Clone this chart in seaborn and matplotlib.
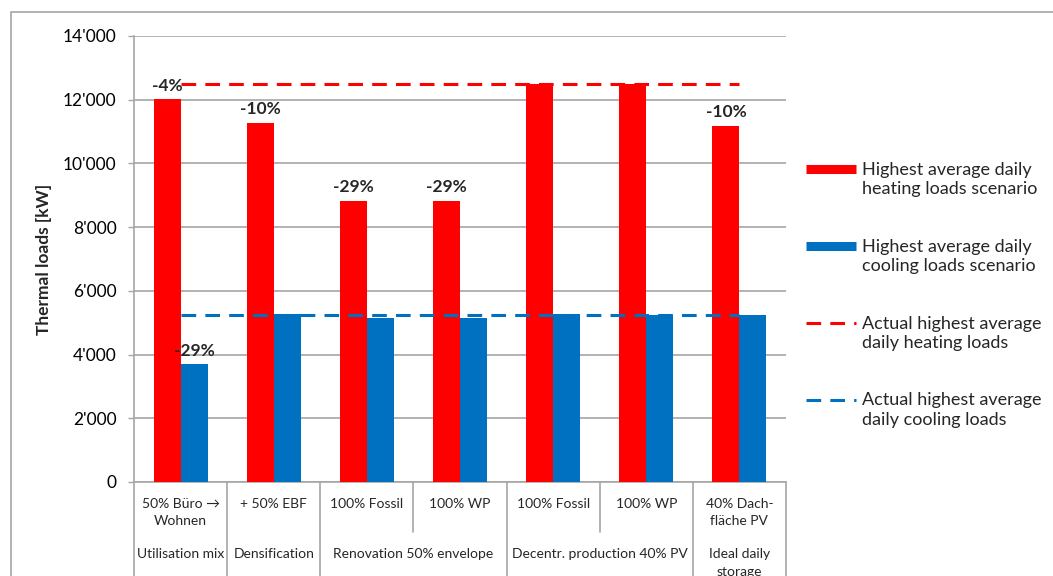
import numpy as np
import pandas as pd
import matplotlib.pyplot as plt
import matplotlib.transforms as mtransforms
from matplotlib.patches import Rectangle
from matplotlib.lines import Line2D
from matplotlib.ticker import FuncFormatter
import seaborn as sns

# scenario values (kW)
scenarios = ["50% Büro →\nWohnen", "+ 50% EBF", "100% Fossil", "100% WP",
             "100% Fossil", "100% WP", "40% Dach-\nfläche PV"]
groups = ["Utilisation mix", "Densification", "Renovation 50% envelope",
          "Decentr. production 40% PV", "Ideal daily\nstorage"]
group_sizes = [1, 1, 2, 2, 1]

heating = [12020, 11270, 8830, 8830, 12500, 12500, 11190]
cooling = [3700, 5270, 5160, 5160, 5260, 5240, 5230]
heating_actual = [12480, 12480, 12480, 12480, 12480, 12480, 12480]
cooling_actual = [5230, 5230, 5230, 5230, 5230, 5230, 5230]
heating_labels = ["-4%", "-10%", "-29%", "-29%", "", "", "-10%"]
cooling_labels = ["-29%", "", "", "", "", "", ""]

HEAT_NAME = "Highest average daily\nheating loads scenario"
COOL_NAME = "Highest average daily\ncooling loads scenario"
HEAT_ACT = "Actual highest average\ndaily heating loads"
COOL_ACT = "Actual highest average\ndaily cooling loads"
RED = "#FF0000"
BLUE = "#0070C0"
GRID = "#A6A6A6"
DASH = (0, (4.8, 3))

df = pd.DataFrame({
    "idx": list(range(len(scenarios))) * 2,
    "load": heating + cooling,
    "series": [HEAT_NAME] * len(heating) + [COOL_NAME] * len(cooling),
})

sns.set_style("white")
plt.rcParams["font.family"] = ["Lato", "DejaVu Sans"]

fig = plt.figure(figsize=(10.53, 5.76), dpi=100)
ax = fig.add_axes([134 / 1053, 94 / 576, 652 / 1053, 446 / 576])

sns.barplot(data=df, x="idx", y="load", hue="series", palette=[RED, BLUE],
            width=0.58, gap=0, saturation=1, legend=False, ax=ax, zorder=3,
            linewidth=0)

xs = np.arange(len(scenarios))
sns.lineplot(x=xs, y=heating_actual, color=RED, lw=2.2, linestyle=DASH, ax=ax, zorder=4)
sns.lineplot(x=xs, y=cooling_actual, color=BLUE, lw=2.2, linestyle=DASH, ax=ax, zorder=4)

ax.bar_label(ax.containers[0], labels=heating_labels, padding=4,
             fontsize=12.5, fontweight="bold")
ax.bar_label(ax.containers[1], labels=cooling_labels, padding=4,
             fontsize=12.5, fontweight="bold")

ax.set_xlim(-0.5, len(scenarios) - 0.5)
ax.set_ylim(0, 14000)
ax.set_yticks(np.arange(0, 14001, 2000))
ax.yaxis.set_major_formatter(FuncFormatter(lambda v, p: f"{v:,.0f}".replace(",", "'")))
ax.yaxis.grid(True, color=GRID, lw=1.2, zorder=0)
ax.set_axisbelow(True)
ax.tick_params(axis="y", which="major", left=True, length=4.5, width=1,
               color=GRID, pad=8, labelsize=12.5, labelcolor="black")
ax.set_xticks([])
ax.set_xlabel("")
ax.set_ylabel("Thermal loads [kW]", fontsize=12.5, fontweight="bold")
ax.yaxis.set_label_coords(-0.125, 0.5)
for s in ["top", "right"]:
    ax.spines[s].set_visible(False)
for s in ["left", "bottom"]:
    ax.spines[s].set_color(GRID)
    ax.spines[s].set_linewidth(1.2)

# two-level category axis
trans = mtransforms.blended_transform_factory(ax.transData, ax.transAxes)
for i, lab in enumerate(scenarios):
    ax.text(i, -0.035, lab, transform=trans, ha="center", va="top",
            fontsize=10, linespacing=1.55)
edges = [-0.5]
for n in group_sizes:
    edges.append(edges[-1] + n)
for b in np.arange(-0.5, len(scenarios), 1.0):
    low = -0.3 if b in edges else -0.112
    ax.plot([b, b], [0, low], transform=trans, color=GRID, lw=1.2, clip_on=False)
for g, lab in enumerate(groups):
    mid = (edges[g] + edges[g + 1]) / 2
    ax.text(mid, -0.148, lab, transform=trans, ha="center", va="top",
            fontsize=10, linespacing=1.55)

handles = [
    Line2D([], [], color=RED, lw=6.5, solid_capstyle="butt", label=HEAT_NAME),
    Line2D([], [], color=BLUE, lw=6.5, solid_capstyle="butt", label=COOL_NAME),
    Line2D([], [], color=RED, lw=2.2, linestyle=DASH, label=HEAT_ACT),
    Line2D([], [], color=BLUE, lw=2.2, linestyle=DASH, label=COOL_ACT),
]
leg = fig.legend(handles=handles, loc="upper left",
                 bbox_to_anchor=(806 / 1053, 1 - 162 / 576),
                 frameon=False, fontsize=13, handlelength=2.75, handleheight=1.1,
                 handletextpad=0.33, labelspacing=2.3, borderpad=0, borderaxespad=0)
for t in leg.get_texts():
    t.set_linespacing(1.25)
# put the handle next to the first line of each two-line label
for col in leg._legend_handle_box.get_children():
    for item in col.get_children():
        item.align = "top"

# outer chart border
fig.patches.append(Rectangle((11 / 1053, -0.1), 1.2, 1.1 - 12 / 576,
                             transform=fig.transFigure, fill=False,
                             edgecolor=GRID, lw=1.2))

fig.savefig("out.png", dpi=100)
